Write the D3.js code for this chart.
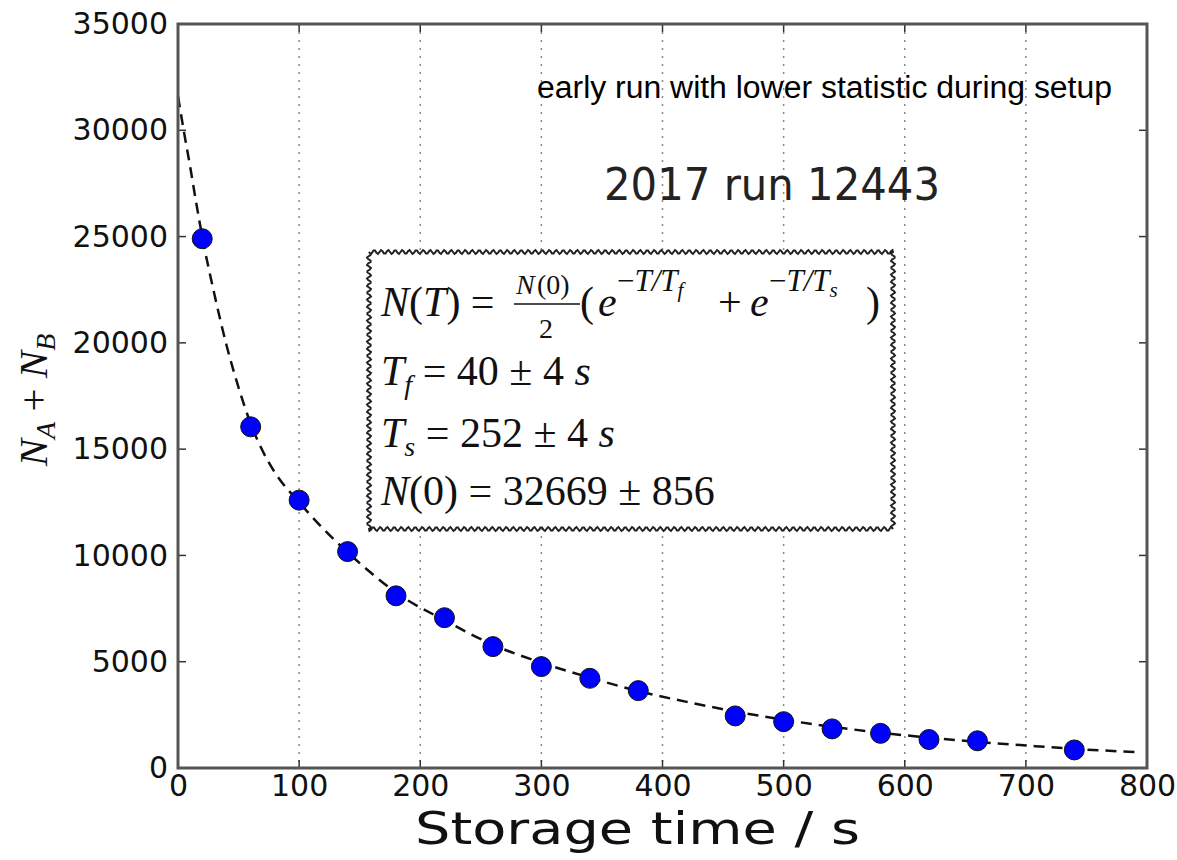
<!DOCTYPE html>
<html>
<head>
<meta charset="utf-8">
<script src="https://cdn.jsdelivr.net/npm/d3@7"></script>
<style>
  body { margin: 0; background: #fff; }
  svg { display: block; }
</style>
</head>
<body>
<div class="chart"></div>
<script>
// measured storage points
var times = [20, 60, 100, 140, 180, 220, 260, 300, 340, 380, 460, 500, 540, 580, 620, 660, 740];
var counts = [24900, 16050, 12600, 10180, 8100, 7070, 5710, 4770, 4220, 3640, 2450, 2180, 1840, 1630, 1340, 1280, 850];

// fit curve
var fitT = [0, 5, 10, 15, 20, 30, 40, 50, 60, 70, 80, 100, 120, 140, 160, 180, 220, 260, 300, 340, 380, 420, 460, 500, 540, 580, 620, 660, 700, 740, 795];
var fitN = [31600, 29900, 28300, 26600, 25000, 22300, 19900, 17900, 16200, 14900, 13900, 12500, 11250, 10150, 9150, 8250, 6950, 5800, 4950, 4250, 3620, 3110, 2660, 2270, 1940, 1660, 1430, 1230, 1060, 900, 740];

var xTicks = [0, 100, 200, 300, 400, 500, 600, 700, 800];
var yTicks = [0, 5000, 10000, 15000, 20000, 25000, 30000, 35000];

function drawChart() {
	var W = 1177, H = 860;
	var pl = 178, pr = 1147, pt = 24, pb = 768;

	var x = d3.scaleLinear().domain([0, 800]).range([pl, pr]);
	var y = d3.scaleLinear().domain([0, 35000]).range([pb, pt]);

	var svg = d3.select(".chart").append("svg")
		.attr("width", W)
		.attr("height", H);

	// vertical dotted grid
	svg.selectAll("line.grid")
		.data(xTicks.filter(function (d) { return d > 0 && d < 800; }))
		.enter().append("line")
		.attr("class", "grid")
		.attr("x1", function (d) { return x(d); })
		.attr("x2", function (d) { return x(d); })
		.attr("y1", pt)
		.attr("y2", pb)
		.attr("stroke", "#888")
		.attr("stroke-width", 1.5)
		.attr("stroke-dasharray", "2,6");

	// fit line
	var line = d3.line()
		.x(function (d) { return x(d[0]); })
		.y(function (d) { return y(d[1]); })
		.curve(d3.curveMonotoneX);

	svg.append("path")
		.datum(fitT.map(function (t, i) { return [t, fitN[i]]; }))
		.attr("d", line)
		.attr("fill", "none")
		.attr("stroke", "#111")
		.attr("stroke-width", 2.5)
		.attr("stroke-dasharray", "11,7");

	// points
	svg.selectAll("circle")
		.data(times.map(function (t, i) { return { t: t, n: counts[i] }; }))
		.enter().append("circle")
		.attr("cx", function (d) { return x(d.t); })
		.attr("cy", function (d) { return y(d.n); })
		.attr("r", 10)
		.attr("fill", "#0000ff")
		.attr("stroke", "#111")
		.attr("stroke-width", 1);

	// axes: tick labels
	var gx = svg.append("g").attr("transform", "translate(0," + pb + ")")
		.call(d3.axisBottom(x).tickValues(xTicks).tickSize(0).tickPadding(7).tickFormat(d3.format("d")));
	gx.select(".domain").remove();
	gx.selectAll("text")
		.attr("font-family", "DejaVu Sans")
		.attr("font-size", 30)
		.attr("fill", "#111");

	var gy = svg.append("g").attr("transform", "translate(" + pl + ",0)")
		.call(d3.axisLeft(y).tickValues(yTicks).tickSize(0).tickPadding(10).tickFormat(d3.format("d")));
	gy.select(".domain").remove();
	gy.selectAll("text")
		.attr("font-family", "DejaVu Sans")
		.attr("font-size", 30)
		.attr("fill", "#111");

	// inner ticks on all four sides
	var tickLen = 8;
	xTicks.forEach(function (d) {
		svg.append("line").attr("x1", x(d)).attr("x2", x(d)).attr("y1", pb).attr("y2", pb - tickLen)
			.attr("stroke", "#333").attr("stroke-width", 1.5);
		svg.append("line").attr("x1", x(d)).attr("x2", x(d)).attr("y1", pt).attr("y2", pt + tickLen)
			.attr("stroke", "#333").attr("stroke-width", 1.5);
	});
	yTicks.forEach(function (d) {
		svg.append("line").attr("x1", pl).attr("x2", pl + tickLen).attr("y1", y(d)).attr("y2", y(d))
			.attr("stroke", "#333").attr("stroke-width", 1.5);
		svg.append("line").attr("x1", pr).attr("x2", pr - tickLen).attr("y1", y(d)).attr("y2", y(d))
			.attr("stroke", "#333").attr("stroke-width", 1.5);
	});

	// frame
	svg.append("rect")
		.attr("x", pl).attr("y", pt)
		.attr("width", pr - pl).attr("height", pb - pt)
		.attr("fill", "none")
		.attr("stroke", "#555")
		.attr("stroke-width", 3);

	// axis titles
	svg.append("text")
		.attr("x", 415)
		.attr("y", 844)
		.attr("font-family", "DejaVu Sans")
		.attr("font-size", 45)
		.attr("textLength", 445)
		.attr("lengthAdjust", "spacingAndGlyphs")
		.attr("fill", "#111")
		.text("Storage time / s");

	var ylab = svg.append("text")
		.attr("transform", "translate(47,400) rotate(-90)")
		.attr("text-anchor", "middle")
		.attr("font-family", "Liberation Serif")
		.attr("font-size", 41)
		.attr("fill", "#111");
	ylab.append("tspan").attr("font-style", "italic").text("N");
	ylab.append("tspan").attr("font-style", "italic").attr("font-size", 28).attr("dy", 8).text("A");
	ylab.append("tspan").attr("dy", -8).text(" + ");
	ylab.append("tspan").attr("font-style", "italic").text("N");
	ylab.append("tspan").attr("font-style", "italic").attr("font-size", 28).attr("dy", 8).text("B");

	// annotations
	svg.append("text")
		.attr("x", 537).attr("y", 98)
		.attr("font-family", "Liberation Sans")
		.attr("font-size", 31)
		.attr("textLength", 575)
		.attr("lengthAdjust", "spacingAndGlyphs")
		.attr("fill", "#000")
		.text("early run with lower statistic during setup");

	svg.append("text")
		.attr("x", 604).attr("y", 200)
		.attr("font-family", "DejaVu Sans")
		.attr("font-size", 44)
		.attr("textLength", 336)
		.attr("lengthAdjust", "spacingAndGlyphs")
		.attr("fill", "#222")
		.text("2017 run 12443");

	// wavy box around the fit result
	var bx0 = 369, by0 = 252, bx1 = 893, by1 = 529;
	function wavyEdge(xa, ya, xb, yb, pts) {
		var len = Math.hypot(xb - xa, yb - ya);
		var nx = -(yb - ya) / len, ny = (xb - xa) / len;
		var step = 1.5, period = 7, amp = 2;
		for (var s = 0; s <= len; s += step) {
			var k = amp * Math.sin(2 * Math.PI * s / period);
			pts.push([xa + (xb - xa) * s / len + nx * k, ya + (yb - ya) * s / len + ny * k]);
		}
	}
	var boxPts = [];
	wavyEdge(bx0, by0, bx1, by0, boxPts);
	wavyEdge(bx1, by0, bx1, by1, boxPts);
	wavyEdge(bx1, by1, bx0, by1, boxPts);
	wavyEdge(bx0, by1, bx0, by0, boxPts);
	svg.append("path")
		.attr("d", d3.line()(boxPts) + "Z")
		.attr("fill", "#fff")
		.attr("stroke", "#222")
		.attr("stroke-width", 2);

	var serif = "Liberation Serif";
	var fs = 42;
	function txt(xp, yp, size, italic, s) {
		return svg.append("text")
			.attr("x", xp).attr("y", yp)
			.attr("font-family", serif)
			.attr("font-size", size)
			.attr("font-style", italic ? "italic" : "normal")
			.attr("fill", "#111")
			.text(s);
	}

	// line 1: N(T) = N(0)/2 (e^{-T/Tf} + e^{-T/Ts})
	var l1 = svg.append("text").attr("x", 381).attr("y", 316)
		.attr("font-family", serif).attr("font-size", fs).attr("fill", "#111");
	l1.append("tspan").attr("font-style", "italic").text("N");
	l1.append("tspan").text("(");
	l1.append("tspan").attr("font-style", "italic").text("T");
	l1.append("tspan").text(") =");
	txt(516, 294, 28, true, "N");
	txt(537, 294, 28, false, "(0)");
	svg.append("line").attr("x1", 514).attr("x2", 580).attr("y1", 304).attr("y2", 304)
		.attr("stroke", "#111").attr("stroke-width", 1.5);
	txt(539, 338, 28, false, "2");
	txt(580, 316, fs, false, "(");
	txt(598, 316, fs, true, "e");
	var s1 = svg.append("text").attr("x", 617).attr("y", 291)
		.attr("font-family", serif).attr("font-size", 31).attr("fill", "#111");
	s1.append("tspan").text("\u2212");
	s1.append("tspan").attr("font-style", "italic").text("T/T");
	s1.append("tspan").attr("font-style", "italic").attr("font-size", 21).attr("dy", 6).text("f");
	txt(718, 316, fs, false, "+");
	txt(750, 316, fs, true, "e");
	var s2 = svg.append("text").attr("x", 769).attr("y", 291)
		.attr("font-family", serif).attr("font-size", 31).attr("fill", "#111");
	s2.append("tspan").text("\u2212");
	s2.append("tspan").attr("font-style", "italic").text("T/T");
	s2.append("tspan").attr("font-style", "italic").attr("font-size", 21).attr("dy", 6).text("s");
	txt(866, 316, fs, false, ")");

	// lines 2-4
	function paramLine(yp, sym, sub, rest, unit) {
		var t = svg.append("text").attr("x", 381).attr("y", yp)
			.attr("font-family", serif).attr("font-size", fs).attr("fill", "#111");
		t.append("tspan").attr("font-style", "italic").text(sym);
		if (sub) {
			t.append("tspan").attr("font-style", "italic").attr("font-size", 28).attr("dy", 9).text(sub);
			t.append("tspan").attr("dy", -9).text(" = " + rest);
		} else {
			t.append("tspan").text(rest);
		}
		if (unit) t.append("tspan").attr("font-style", "italic").text(" " + unit);
	}
	paramLine(385, "T", "f", "40 \u00b1 4", "s");
	paramLine(447, "T", "s", "252 \u00b1 4", "s");
	paramLine(505, "N", null, "(0) = 32669 \u00b1 856", null);
}

drawChart();
</script>
</body>
</html>
